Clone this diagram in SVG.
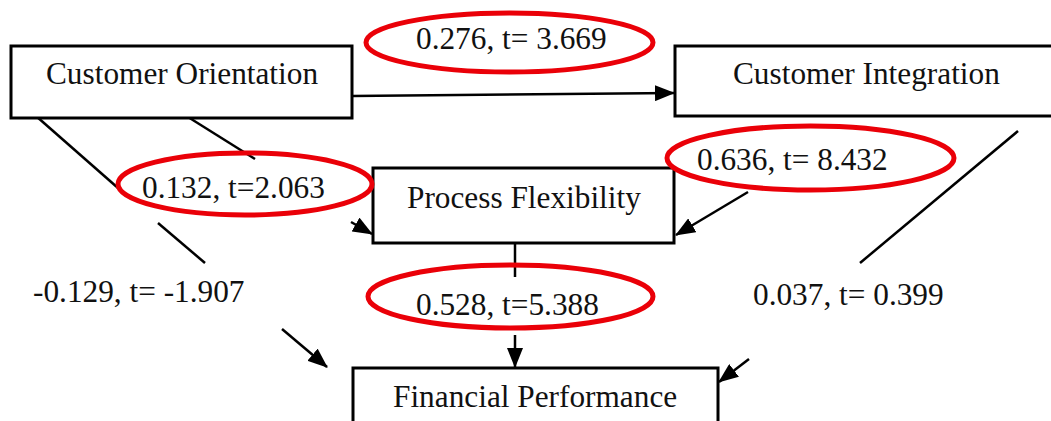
<svg xmlns="http://www.w3.org/2000/svg" width="1051" height="421" viewBox="0 0 1051 421">
  <defs>
    <marker id="arrow" viewBox="0 0 20 16" refX="19" refY="8" markerWidth="20" markerHeight="16" markerUnits="userSpaceOnUse" orient="auto">
      <path d="M0,0 L20,8 L0,16 Z" fill="#000"/>
    </marker>
    <style>
      .box { fill: #fff; stroke: #000; stroke-width: 3; }
      .lbl { font-family: "Liberation Serif", "Times New Roman", serif; font-size: 31.3px; fill: #111; }
      .edge { stroke: #000; stroke-width: 2.5; fill: none; }
      .hl { fill: none; stroke: #ea0008; stroke-width: 5; }
    </style>
  </defs>

  <rect width="1051" height="421" fill="#fff"/>

  <!-- connectors (segments interrupted where the path labels sit) -->
  <g id="connectors">
    <!-- Customer Orientation -> Customer Integration -->
    <line class="edge" x1="352" y1="96" x2="674" y2="93" marker-end="url(#arrow)"/>
    <!-- Customer Orientation -> Financial Performance -->
    <line class="edge" x1="36" y1="116" x2="118" y2="188"/>
    <line class="edge" x1="158" y1="223" x2="205" y2="263"/>
    <line class="edge" x1="282" y1="329" x2="327" y2="367" marker-end="url(#arrow)"/>
    <!-- Customer Orientation -> Process Flexibility -->
    <line class="edge" x1="188" y1="117" x2="255" y2="159"/>
    <line class="edge" x1="351" y1="222" x2="372" y2="234" marker-end="url(#arrow)"/>
    <!-- Customer Integration -> Process Flexibility -->
    <line class="edge" x1="748" y1="192" x2="676" y2="235" marker-end="url(#arrow)"/>
    <!-- Customer Integration -> Financial Performance -->
    <line class="edge" x1="1018" y1="131" x2="860" y2="263"/>
    <line class="edge" x1="749" y1="359" x2="719" y2="382" marker-end="url(#arrow)"/>
    <!-- Process Flexibility -> Financial Performance -->
    <line class="edge" x1="515" y1="243" x2="515" y2="277" stroke-width="3"/>
    <line class="edge" x1="515" y1="335" x2="515" y2="367" stroke-width="3" marker-end="url(#arrow)"/>
  </g>

  <g id="customer-orientation">
    <rect class="box" x="11" y="46" width="341" height="72"/>
    <text class="lbl" x="46" y="84">Customer Orientation</text>
  </g>

  <g id="customer-integration">
    <rect class="box" x="675" y="46" width="390" height="70"/>
    <text class="lbl" x="733" y="84">Customer Integration</text>
  </g>

  <g id="process-flexibility">
    <rect class="box" x="373" y="168" width="301" height="75"/>
    <text class="lbl" x="407" y="208">Process Flexibility</text>
  </g>

  <g id="financial-performance">
    <rect class="box" x="353" y="368" width="365" height="70"/>
    <text class="lbl" x="393" y="407">Financial Performance</text>
  </g>

  <!-- path coefficients -->
  <g id="labels">
    <ellipse class="hl" cx="509.5" cy="42.5" rx="143.5" ry="29.5"/>
    <text class="lbl" x="416" y="49">0.276, t= 3.669</text>

    <ellipse class="hl" cx="245" cy="184" rx="127" ry="31"/>
    <text class="lbl" x="142" y="198">0.132, t=2.063</text>

    <ellipse class="hl" cx="810.5" cy="158" rx="143.5" ry="32"/>
    <text class="lbl" x="697" y="170">0.636, t= 8.432</text>

    <ellipse class="hl" cx="510.5" cy="296.5" rx="142.5" ry="31.5"/>
    <text class="lbl" x="416" y="315">0.528, t=5.388</text>

    <text class="lbl" x="33" y="302">-0.129, t= -1.907</text>
    <text class="lbl" x="753" y="305">0.037, t= 0.399</text>
  </g>
</svg>
